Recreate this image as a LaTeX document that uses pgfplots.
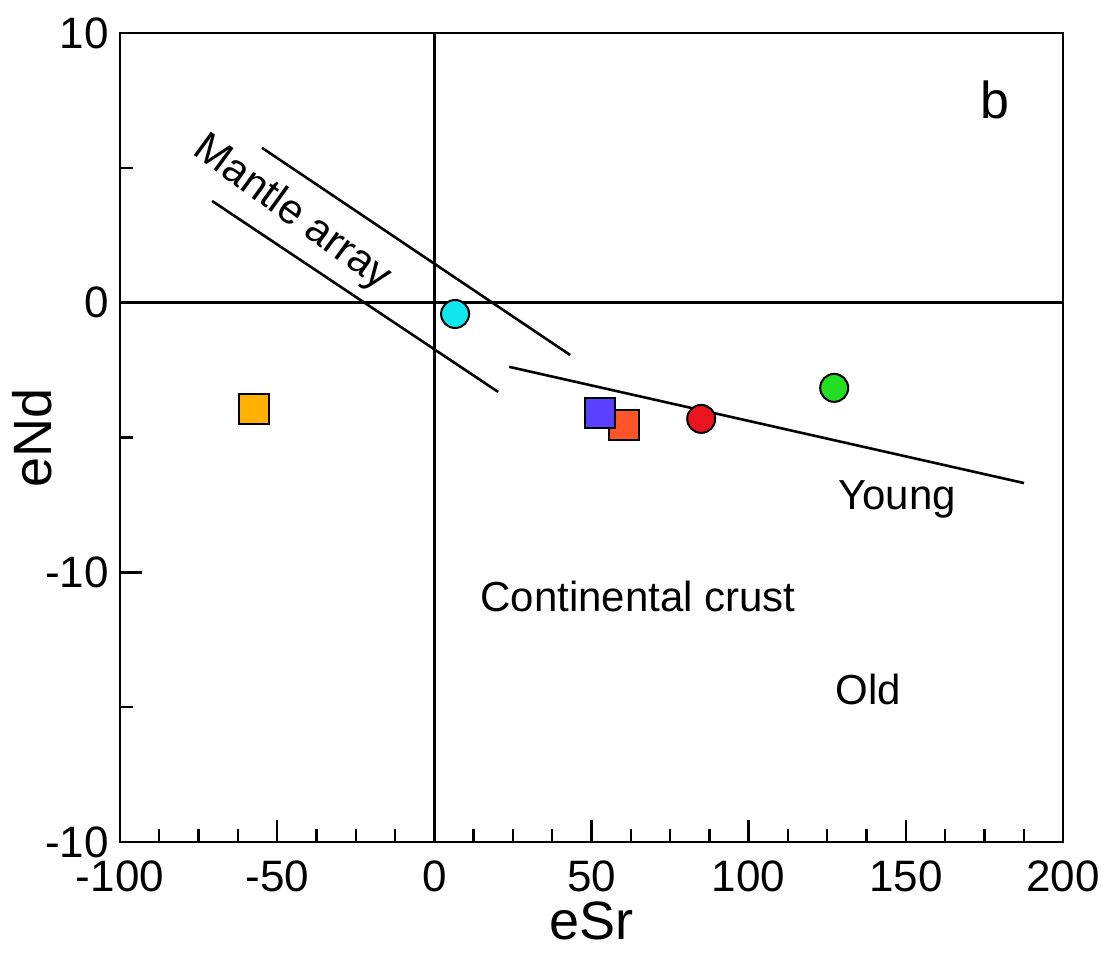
\documentclass[border=0pt]{standalone}
\usepackage{pgfplots}
\pgfplotsset{compat=1.18}
\usepackage{fontspec}
\setmainfont{Liberation Sans}
\definecolor{cOrange}{HTML}{FFB000}
\definecolor{cCyan}{HTML}{10E8F0}
\definecolor{cBlue}{HTML}{5A40FF}
\definecolor{cRedOr}{HTML}{FF5528}
\definecolor{cRed}{HTML}{E8141E}
\definecolor{cGreen}{HTML}{22DD22}
\begin{document}
\begin{tikzpicture}
\begin{axis}[
  scale only axis,
  width=471.5pt, height=404.5pt,
  xmin=-100, xmax=200, ymin=-20, ymax=10,
  axis line style={line width=1.3pt},
  xtick={-100,-50,0,50,100,150,200},
  xticklabels={-100,-50,0,50,100,150,200},
  ytick={-20,-10,0,10},
  yticklabels={-10,-10,0,10},
  minor x tick num=3,
  minor y tick num=1,
  xtick pos=bottom, ytick pos=left,
  tick align=inside,
  major tick length=11pt, minor tick length=6.5pt,
  every tick/.style={black, line width=1.2pt},
  tick label style={font=\fontsize{22}{24}\selectfont},
  xticklabel style={yshift=-6pt},
  yticklabel style={xshift=-2pt},
  xlabel={eSr}, ylabel={eNd},
  label style={font=\fontsize{27}{30}\selectfont},
  xlabel style={yshift=2pt},
  ylabel style={yshift=-10pt},
  clip=false,
]
% crosshair
\addplot[black, line width=1.2pt] coordinates {(0,-20) (0,10)};
\addplot[black, line width=1.2pt] coordinates {(-100,0) (200,0)};
% mantle array
\addplot[black, line width=1.3pt] coordinates {(-54.8,5.74) (43.2,-1.94)};
\addplot[black, line width=1.3pt] coordinates {(-70.7,3.77) (20.3,-3.31)};
% crust line
\addplot[black, line width=1.3pt] coordinates {(23.8,-2.38) (187.6,-6.69)};
% data
\addplot[only marks, mark=square*, mark size=7.5pt, mark options={fill=cOrange, draw=black, line width=1pt}] coordinates {(-57.4,-3.94)};
\addplot[only marks, mark=square*, mark size=7.5pt, mark options={fill=cRedOr, draw=black, line width=1pt}] coordinates {(60.4,-4.53)};
\addplot[only marks, mark=square*, mark size=7.5pt, mark options={fill=cBlue, draw=black, line width=1pt}] coordinates {(52.7,-4.09)};
\addplot[only marks, mark=*, mark size=7pt, mark options={fill=cCyan, draw=black, line width=1pt}] coordinates {(6.6,-0.42)};
\addplot[only marks, mark=*, mark size=7pt, mark options={fill=cRed, draw=black, line width=1pt}] coordinates {(84.9,-4.31)};
\addplot[only marks, mark=*, mark size=7pt, mark options={fill=cGreen, draw=black, line width=1pt}] coordinates {(127.2,-3.16)};
% texts
\node[font=\fontsize{21}{24}\selectfont, rotate=-36] at (axis cs:-45.3,3.3) {Mantle array};
\node[font=\fontsize{26}{28}\selectfont] at (axis cs:178.4,7.5) {b};
\node[font=\fontsize{21}{24}\selectfont] at (axis cs:147.2,-7.3) {Young};
\node[font=\fontsize{21}{24}\selectfont] at (axis cs:64.8,-10.9) {Continental crust};
\node[font=\fontsize{21}{24}\selectfont] at (axis cs:138,-14.36) {Old};
\end{axis}
\pgfresetboundingbox
\path[use as bounding box] ([shift={(-60pt,-65.5pt)}]current axis.south west) rectangle ([shift={(24pt,16.5pt)}]current axis.north east);
\end{tikzpicture}
\end{document}
